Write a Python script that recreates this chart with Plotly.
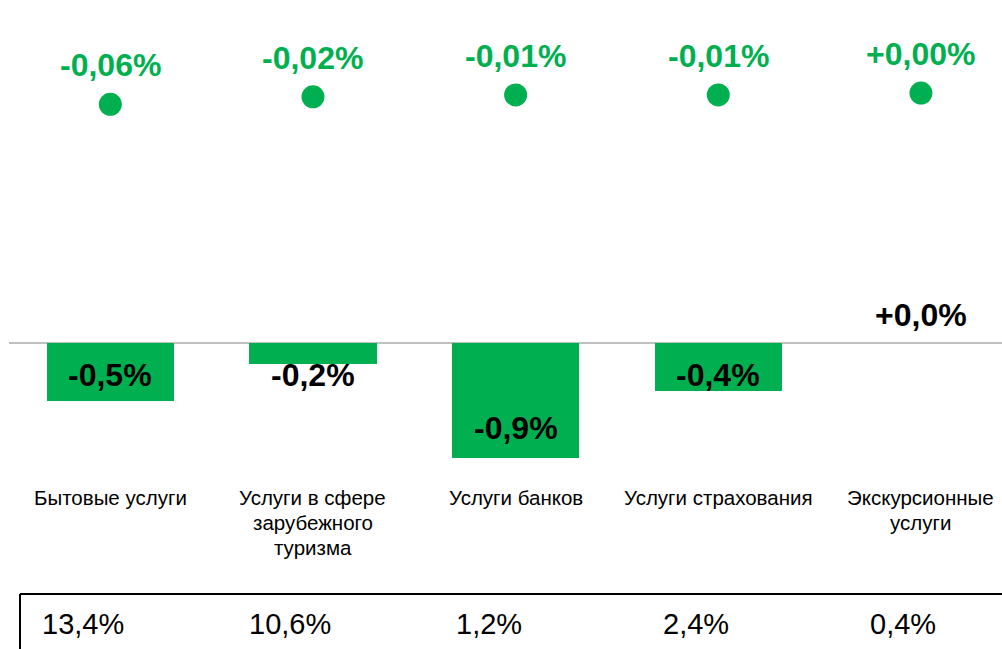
import plotly.graph_objects as go

# ---- data ----
categories = [
    "Бытовые услуги",
    "Услуги в сфере<br>зарубежного<br>туризма",
    "Услуги банков",
    "Услуги страхования",
    "Экскурсионные<br>услуги",
]
bar_values = [-0.46, -0.17, -0.92, -0.38, 0.0]          # price change, %
dot_values = [-0.06, -0.019, -0.009, -0.009, 0.001]     # contribution, p.p.
weights = [13.4, 10.6, 1.2, 2.4, 0.4]                   # share, %
bar_label_y = [-0.256, -0.256, -0.68, -0.256, 0.224]    # label anchor on bar axis

GREEN = "#00B050"
FONT = "Liberation Sans, Arial, sans-serif"

W, H = 1002, 649
ML = 9
PW = W - ML

def fmt(v, d, sign=True):
    s = f"{v:+.{d}f}" if sign else f"{v:.{d}f}"
    return s.replace(".", ",") + "%"

x = list(range(len(categories)))

fig = go.Figure()
fig.add_trace(go.Bar(
    x=x, y=bar_values, width=0.627, marker=dict(color=GREEN, line=dict(width=0)),
    yaxis="y", hoverinfo="skip",
))
fig.add_trace(go.Scatter(
    x=x, y=dot_values, mode="markers", yaxis="y2",
    marker=dict(color=GREEN, size=23, line=dict(width=0)), hoverinfo="skip",
))

ann = []
for i, v in enumerate(bar_values):
    ann.append(dict(x=i, y=bar_label_y[i], xref="x", yref="y", text=f"<b>{fmt(v,1)}</b>",
                    showarrow=False, font=dict(family=FONT, size=32, color="black"),
                    xanchor="center", yanchor="middle"))
for i, v in enumerate(dot_values):
    ann.append(dict(x=i, y=v, xref="x", yref="y2", text=f"<b>{fmt(v,2)}</b>",
                    showarrow=False, font=dict(family=FONT, size=32, color=GREEN),
                    xanchor="center", yanchor="middle", yshift=39))
for i, c in enumerate(categories):
    for j, line in enumerate(c.split("<br>")):
        ann.append(dict(x=i, y=1 - (497 + 25 * j) / H, xref="x", yref="paper", text=line,
                        showarrow=False, font=dict(family=FONT, size=20.5, color="black"),
                        xanchor="center", yanchor="middle"))
for i, w in enumerate(weights):
    left_px = 20 + 207 * i + 23
    ann.append(dict(x=(left_px - ML) / PW, y=1 - 624 / H, xref="paper", yref="paper",
                    text=fmt(w, 1, sign=False), showarrow=False, xshift=-3,
                    font=dict(family=FONT, size=29, color="black"),
                    xanchor="left", yanchor="middle"))

x0p = (20 - ML) / PW
ytop = 1 - 594 / H
shapes = [
    dict(type="line", xref="paper", yref="paper", x0=x0p, x1=1.01, y0=ytop, y1=ytop,
         line=dict(color="black", width=2)),
    dict(type="line", xref="paper", yref="paper", x0=x0p, x1=x0p, y0=ytop, y1=-0.05,
         line=dict(color="black", width=2)),
]

fig.update_layout(
    width=W, height=H,
    margin=dict(l=ML, r=0, t=0, b=0),
    paper_bgcolor="white", plot_bgcolor="white",
    showlegend=False, bargap=0,
    xaxis=dict(range=[-0.5, 4.4], showgrid=False, zeroline=False, showticklabels=False,
               ticks="", showline=False, fixedrange=True),
    yaxis=dict(range=[2.744 - H / 125, 2.744], showgrid=False, zeroline=True,
               zerolinecolor="#c0c0c0", zerolinewidth=2, showticklabels=False, ticks=""),
    yaxis2=dict(range=[0.5098 - H / 183, 0.5098], overlaying="y", visible=False),
    annotations=ann, shapes=shapes,
)

fig.write_html("out.html", config={"displayModeBar": False, "staticPlot": True},
               post_script="document.body.style.margin='0';document.body.style.overflow='hidden';")
